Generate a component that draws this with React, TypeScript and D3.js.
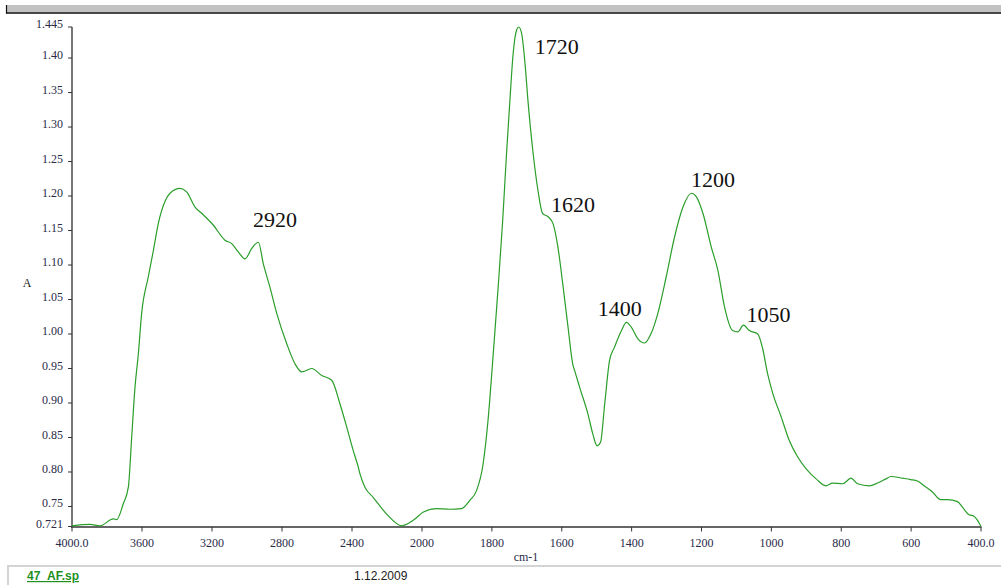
import React from "react";
import * as d3 from "d3";

const wavenumbers = [
  4000, 3897, 3840, 3764, 3745, 3707, 3678, 3659, 3640, 3621, 3602, 3564, 3535, 3507, 3469, 3440,
  3383, 3345, 3297, 3259, 3193, 3126, 3087, 3050, 3011, 2973, 2935, 2907, 2869, 2830, 2773, 2726,
  2687, 2630, 2573, 2516, 2469, 2430, 2393, 2364, 2354, 2326, 2278, 2202, 2116, 2050, 1996, 1958,
  1920, 1887, 1863, 1844, 1825, 1811, 1796, 1782, 1769, 1758, 1749, 1739, 1729, 1723, 1715, 1706,
  1696, 1682, 1668, 1655, 1639, 1625, 1611, 1596, 1582, 1568, 1563, 1549, 1525, 1511, 1499, 1489,
  1477, 1463, 1449, 1429, 1415, 1401, 1382, 1363, 1344, 1325, 1301, 1277, 1253, 1229, 1215, 1196,
  1172, 1153, 1134, 1111, 1096, 1080, 1063, 1039, 1025, 1011, 996, 972, 949, 925, 901, 872, 844,
  825, 796, 772, 753, 720, 696, 672, 658, 625, 601, 582, 563, 539, 515, 496, 467, 453, 434, 420,
  410, 400,
];
const absorbance = [
  0.722, 0.724, 0.722, 0.732, 0.731, 0.754, 0.778, 0.85, 0.923, 0.971, 1.03, 1.083, 1.121, 1.16,
  1.192, 1.204, 1.211, 1.206, 1.184, 1.175, 1.158, 1.136, 1.131, 1.119, 1.109, 1.124, 1.133, 1.102,
  1.068, 1.03, 0.986, 0.957, 0.945, 0.95, 0.94, 0.933, 0.899, 0.865, 0.831, 0.807, 0.797, 0.778,
  0.763, 0.739, 0.722, 0.73, 0.742, 0.747, 0.746, 0.747, 0.759, 0.773, 0.812, 0.875, 0.972, 1.068,
  1.165, 1.262, 1.334, 1.407, 1.441, 1.445, 1.436, 1.397, 1.334, 1.262, 1.208, 1.175, 1.17, 1.16,
  1.126, 1.068, 1.01, 0.955, 0.947, 0.923, 0.884, 0.855, 0.838, 0.843, 0.899, 0.962, 0.981, 1.005,
  1.017, 1.01, 0.993, 0.987, 1.001, 1.03, 1.083, 1.141, 1.184, 1.204, 1.199, 1.175, 1.126, 1.092,
  1.039, 1.005, 1.003, 1.013, 1.005, 1.0, 0.979, 0.943, 0.914, 0.88, 0.846, 0.822, 0.805, 0.79,
  0.78, 0.784, 0.783, 0.791, 0.783, 0.78, 0.784, 0.79, 0.7935, 0.791, 0.789, 0.787, 0.78, 0.771,
  0.76, 0.76, 0.757, 0.749, 0.738, 0.736, 0.73, 0.721,
];

const xTicks = [4000, 3600, 3200, 2800, 2400, 2000, 1800, 1600, 1400, 1200, 1000, 800, 600, 400];
const xTickLabels = ["4000.0", "3600", "3200", "2800", "2400", "2000", "1800", "1600", "1400", "1200", "1000", "800", "600", "400.0"];
const yTicks = [1.445, 1.4, 1.35, 1.3, 1.25, 1.2, 1.15, 1.1, 1.05, 1.0, 0.95, 0.9, 0.85, 0.8, 0.75, 0.721];
const yTickLabels = ["1.445", "1.40", "1.35", "1.30", "1.25", "1.20", "1.15", "1.10", "1.05", "1.00", "0.95", "0.90", "0.85", "0.80", "0.75", "0.721"];

const peakLabels = ["2920", "1720", "1620", "1400", "1200", "1050"];
const peakLabelWn = [2966, 1677, 1631, 1497, 1230, 1071];
const peakLabelA = [1.155, 1.406, 1.177, 1.026, 1.213, 1.018];

const fileName = "47_AF.sp";
const fileDate = "1.12.2009";
const xTitle = "cm-1";
const yTitle = "A";

export default function App() {
  const W = 1001;
  const H = 585;
  const x = d3.scaleLinear().domain([4000, 2000, 400]).range([72, 422, 981]);
  const y = d3.scaleLinear().domain([0.721, 1.445]).range([526.5, 27]);
  const pts = wavenumbers.map((w, i) => [x(w), y(absorbance[i])] as [number, number]);
  const line = d3.line().curve(d3.curveMonotoneX)(pts) || "";
  const axisFont = "'Liberation Serif', 'Times New Roman', serif";
  const tickColor = "#2a2a48";
  return (
    <svg
      width={W}
      height={H}
      style={{ position: "absolute", left: 0, top: 0, background: "#fff" }}
    >
      <rect x={0} y={0} width={W} height={H} fill="#fff" />
      {/* top bar */}
      <rect x={6} y={5} width={W - 6} height={7.5} fill="#c2c2c2" />
      <line x1={6} x2={W} y1={13} y2={13} stroke="#111" strokeWidth={1.5} />
      <line x1={6.5} x2={6.5} y1={5} y2={13.5} stroke="#111" strokeWidth={1.2} />

      {/* y axis */}
      <line x1={72} x2={72} y1={27} y2={527} stroke="#777" strokeWidth={2} />
      {yTicks.map((t, i) => (
        <g key={"y" + i}>
          <line x1={68} x2={72} y1={y(t)} y2={y(t)} stroke="#333" strokeWidth={1} />
          <text
            x={63}
            y={y(t) + 1}
            textAnchor="end"
            fontFamily={axisFont}
            fontSize={12}
            fill={tickColor}
          >
            {yTickLabels[i]}
          </text>
        </g>
      ))}
      <text x={27} y={287} textAnchor="middle" fontFamily={axisFont} fontSize={12} fill="#222">
        {yTitle}
      </text>

      {/* x axis */}
      <line x1={71} x2={981.5} y1={527} y2={527} stroke="#333" strokeWidth={1.3} />
      {xTicks.map((t, i) => (
        <g key={"x" + i}>
          <line x1={x(t)} x2={x(t)} y1={527} y2={531.5} stroke="#333" strokeWidth={1} />
          <text
            x={x(t)}
            y={547}
            textAnchor="middle"
            fontFamily={axisFont}
            fontSize={12}
            fill={tickColor}
          >
            {xTickLabels[i]}
          </text>
        </g>
      ))}
      <text x={526} y={561} textAnchor="middle" fontFamily={axisFont} fontSize={12} fill={tickColor}>
        {xTitle}
      </text>

      {/* spectrum */}
      <path d={line} fill="none" stroke="#2a9e2a" strokeWidth={1.2} />

      {/* peak annotations */}
      {peakLabels.map((p, i) => (
        <text
          key={"p" + i}
          x={x(peakLabelWn[i])}
          y={y(peakLabelA[i])}
          fontFamily="'Liberation Serif', Cambria, serif"
          fontSize={22}
          fill="#111"
        >
          {p}
        </text>
      ))}

      {/* footer */}
      <line x1={7} x2={W} y1={566} y2={566} stroke="#d4d4d4" strokeWidth={2} />
      <line x1={8} x2={8} y1={566} y2={H} stroke="#d4d4d4" strokeWidth={2} />
      <text
        x={27}
        y={580}
        fontFamily="'Liberation Sans', Arial, sans-serif"
        fontSize={12}
        fontWeight="bold"
        fill="#1f8f1f"
        textDecoration="underline"
      >
        {fileName}
      </text>
      <text x={354} y={580} fontFamily="'Liberation Sans', Arial, sans-serif" fontSize={12} fill="#222">
        {fileDate}
      </text>
    </svg>
  );
}
